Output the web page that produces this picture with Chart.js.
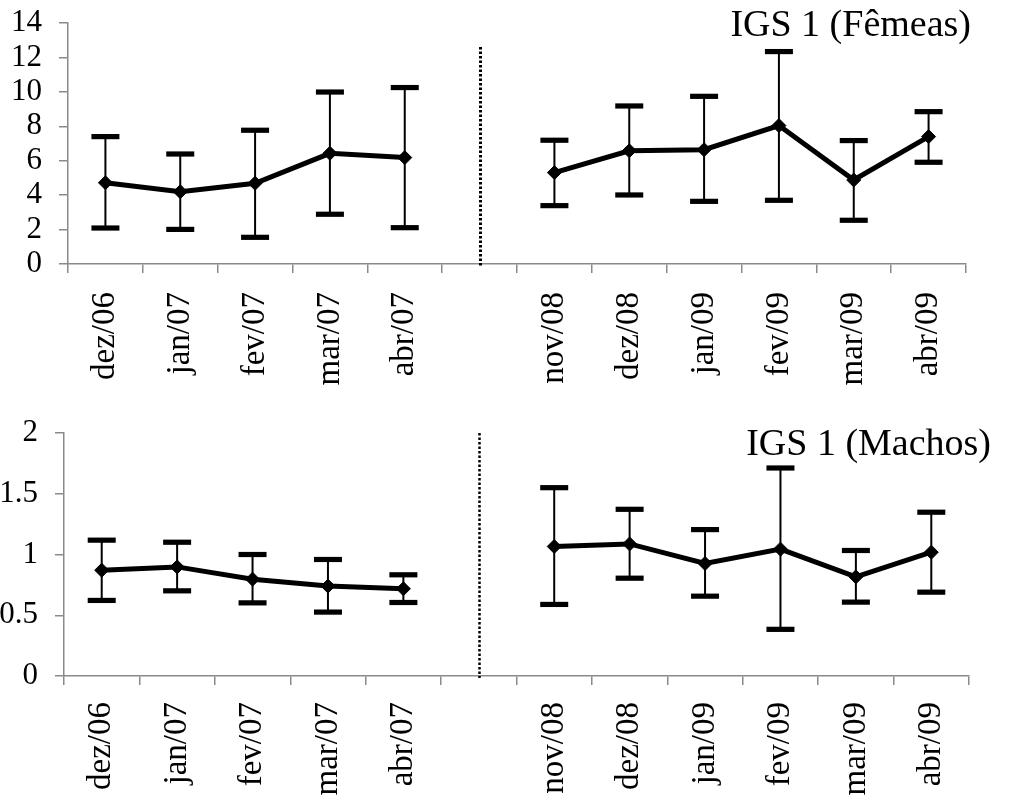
<!DOCTYPE html>
<html>
<head>
<meta charset="utf-8">
<script src="https://cdn.jsdelivr.net/npm/chart.js@4/dist/chart.umd.min.js"></script>
<style>
  html, body { margin: 0; padding: 0; background: #fff; }
  #wrap { position: relative; width: 1010px; height: 796px; }
  canvas { position: absolute; left: 0; }
</style>
</head>
<body>
<div id="wrap">
  <canvas id="femeas" width="1010" height="398" style="top:0px"></canvas>
  <canvas id="machos" width="1010" height="398" style="top:398px"></canvas>
</div>
<script>
// Sampling months; the empty slot separates the two collection periods
const months = ['dez/06', 'jan/07', 'fev/07', 'mar/07', 'abr/07', '',
                'nov/08', 'dez/08', 'jan/09', 'fev/09', 'mar/09', 'abr/09'];

// IGS 1 - females: mean and error-bar limits
const femeasMean  = [4.72, 4.20, 4.69, 6.43, 6.18, null, 5.31, 6.58, 6.64, 8.04, 4.88, 7.40];
const femeasUpper = [7.40, 6.39, 7.77, 9.99, 10.25, null, 7.19, 9.18, 9.74, 12.34, 7.17, 8.85];
const femeasLower = [2.09, 2.01, 1.55, 2.89, 2.11, null, 3.39, 4.01, 3.64, 3.70, 2.54, 5.91];

// IGS 1 - males: mean and error-bar limits
const machosMean  = [0.871, 0.898, 0.797, 0.740, 0.718, null, 1.066, 1.087, 0.926, 1.044, 0.816, 1.019];
const machosUpper = [1.118, 1.101, 1.000, 0.959, 0.833, null, 1.550, 1.372, 1.205, 1.712, 1.033, 1.348];
const machosLower = [0.622, 0.701, 0.602, 0.526, 0.605, null, 0.589, 0.805, 0.657, 0.384, 0.608, 0.690];

// Value-axis tick labels
const femeasTicks = ['0', '2', '4', '6', '8', '10', '12', '14'];
const machosTicks = ['0', '0.5', '1', '1.5', '2'];

const FONT = "'Liberation Serif', 'Times New Roman', serif";
const AXIS_GREY = '#8a8a8a';

// Error bars, the dotted period divider and the panel caption
const panelDecor = {
  id: 'panelDecor',
  beforeDatasetsDraw(chart, args, o) {
    const { ctx } = chart;
    const xs = chart.scales.x, ys = chart.scales.y;
    ctx.save();
    ctx.fillStyle = '#000';
    ctx.strokeStyle = '#000';
    o.mean.forEach((m, i) => {
      if (m === null) return;
      const px = xs.getPixelForValue(i);
      const yu = ys.getPixelForValue(o.upper[i]);
      const yl = ys.getPixelForValue(o.lower[i]);
      ctx.lineWidth = 2;
      ctx.beginPath();
      ctx.moveTo(px, yu);
      ctx.lineTo(px, yl);
      ctx.stroke();
      ctx.fillRect(px - 14, yu - 2.6, 28, 5.2);
      ctx.fillRect(px - 14, yl - 2.6, 28, 5.2);
    });
    // dotted divider between the two periods
    const dx = Math.round(xs.getPixelForValue(o.dividerIndex)) + 0.5;
    ctx.lineWidth = o.dividerWidth;
    ctx.setLineDash([2.5, 2]);
    ctx.beginPath();
    ctx.moveTo(dx, ys.getPixelForValue(o.dividerTop));
    ctx.lineTo(dx, ys.getPixelForValue(0) + 2);
    ctx.stroke();
    ctx.restore();
  },
  afterDraw(chart, args, o) {
    const { ctx } = chart;
    ctx.save();
    ctx.fillStyle = '#000';
    ctx.font = '38px ' + FONT;
    ctx.textAlign = 'right';
    ctx.textBaseline = 'alphabetic';
    ctx.fillText(o.caption, o.captionX, o.captionY);
    ctx.restore();
  }
};

function makePanel(id, mean, upper, lower, yMax, yStep, yTicks, geo) {
  return new Chart(document.getElementById(id), {
    type: 'line',
    data: {
      labels: months,
      datasets: [{
        data: mean,
        borderColor: '#000',
        borderWidth: 5,
        backgroundColor: '#000',
        pointStyle: 'rectRot',
        pointRadius: 7,
        pointBorderWidth: 1,
        pointBackgroundColor: '#000',
        pointBorderColor: '#000',
        spanGaps: false,
        tension: 0
      }]
    },
    options: {
      responsive: false,
      animation: false,
      devicePixelRatio: 1,
      layout: { padding: { left: geo.left, right: geo.right, top: geo.top, bottom: 0 } },
      plugins: {
        legend: { display: false },
        tooltip: { enabled: false },
        panelDecor: {
          mean, upper, lower,
          dividerIndex: 5,
          dividerTop: geo.dividerTop,
          dividerWidth: geo.dividerWidth,
          caption: geo.caption,
          captionX: geo.captionX,
          captionY: geo.captionY
        }
      },
      scales: {
        x: {
          type: 'category',
          offset: true,
          grid: {
            offset: true,
            drawOnChartArea: false,
            drawTicks: true,
            tickLength: 9,
            color: AXIS_GREY,
            lineWidth: 1.5
          },
          border: { color: AXIS_GREY, width: 1.5 },
          ticks: {
            autoSkip: false,
            maxRotation: 90,
            minRotation: 90,
            padding: geo.xPad,
            color: '#000',
            font: { family: FONT, size: 33 }
          },
          afterFit(scale) {
            scale.height = geo.xHeight;
            scale.paddingLeft = 0;
            scale.paddingRight = 0;
          }
        },
        y: {
          min: 0,
          max: yMax,
          ticks: {
            autoSkip: false,
            stepSize: yStep,
            padding: 17,
            color: '#000',
            font: { family: FONT, size: 31 },
            callback: (v) => yTicks[Math.round(v / yStep)]
          },
          grid: {
            drawOnChartArea: false,
            drawTicks: true,
            tickLength: 9,
            color: AXIS_GREY,
            lineWidth: 1.5
          },
          border: { color: AXIS_GREY, width: 1.5 },
          afterFit(scale) {
            scale.width = geo.yWidth;
            scale.paddingTop = 0;
            scale.paddingBottom = 0;
          }
        }
      }
    },
    plugins: [panelDecor]
  });
}

makePanel('femeas', femeasMean, femeasUpper, femeasLower, 14, 2, femeasTicks, {
  left: 0, top: 23, right: 44, yWidth: 68, xHeight: 134, xPad: 19,
  dividerTop: 12.6, dividerWidth: 3,
  caption: 'IGS 1 (Fêmeas)', captionX: 971, captionY: 36
});

makePanel('machos', machosMean, machosUpper, machosLower, 2, 0.5, machosTicks, {
  left: 0, top: 35, right: 41, yWidth: 64, xHeight: 120, xPad: 17,
  dividerTop: 2, dividerWidth: 2.5,
  caption: 'IGS 1 (Machos)', captionX: 991, captionY: 57
});
</script>
</body>
</html>
